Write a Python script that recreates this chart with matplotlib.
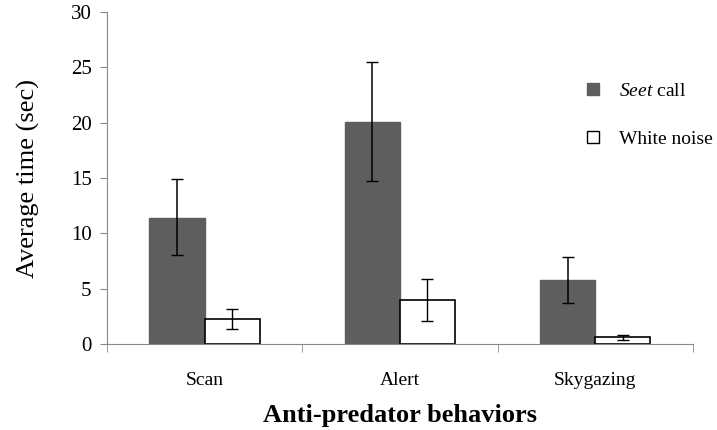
import numpy as np
import matplotlib.pyplot as plt
from matplotlib.patches import Patch

behaviors = ['Scan', 'Alert', 'Skygazing']
seet_mean = [11.4, 20.05, 5.8]
seet_err_lo = [3.4, 5.3, 2.1]
seet_err_hi = [3.5, 5.45, 2.1]
noise_mean = [2.3, 4.0, 0.63]
noise_err_lo = [0.9, 1.9, 0.23]
noise_err_hi = [0.9, 1.9, 0.22]

plt.rcParams['font.family'] = ['Liberation Serif', 'DejaVu Serif']
plt.rcParams['mathtext.fontset'] = 'custom'
plt.rcParams['mathtext.it'] = 'Liberation Serif:italic'
plt.rcParams['mathtext.rm'] = 'Liberation Serif'

fig = plt.figure(figsize=(7.17, 4.3), dpi=100)
ax = fig.add_axes([0.149, 0.2, 0.8175, 0.772])

x = np.arange(len(behaviors)) + 0.5
w = 0.282
ax.bar(x - w / 2, seet_mean, w, color='#5e5e5e', edgecolor='#5e5e5e',
       yerr=[seet_err_lo, seet_err_hi], capsize=4,
       error_kw={'elinewidth': 1.1, 'capthick': 1.0, 'ecolor': 'black'})
ax.bar(x + w / 2, noise_mean, w, color='white', edgecolor='black', linewidth=1.2,
       yerr=[noise_err_lo, noise_err_hi], capsize=4,
       error_kw={'elinewidth': 1.0, 'capthick': 1.0, 'ecolor': 'black'})

ax.set_xlim(0, 3)
ax.set_ylim(0, 30)
ax.set_yticks(range(0, 31, 5))
ax.set_xticks(x)
ax.set_xticklabels(behaviors, fontsize=14)
ax.set_xticks([0, 1, 2, 3], minor=True)
ax.tick_params(axis='x', which='major', length=0, pad=20)
ax.tick_params(axis='x', which='minor', length=6, color='#888888', direction='out')
ax.tick_params(axis='y', length=5, color='#888888', labelsize=15, pad=6)

for s in ['top', 'right']:
    ax.spines[s].set_visible(False)
for s in ['left', 'bottom']:
    ax.spines[s].set_color('#888888')

ax.set_ylabel('Average time (sec)', fontsize=19, labelpad=22)
ax.set_xlabel('Anti-predator behaviors', fontsize=19, fontweight='bold', labelpad=11)

handles = [Patch(facecolor='#5e5e5e', edgecolor='#5e5e5e'),
           Patch(facecolor='white', edgecolor='black')]
ax.legend(handles, [r'$\mathit{Seet}$ call', 'White noise'], frameon=False,
          fontsize=14, handlelength=0.6, handleheight=0.6, labelspacing=1.6,
          handletextpad=1.0, loc='upper left', bbox_to_anchor=(0.79, 0.84))

fig.savefig('out.png', dpi=100)
